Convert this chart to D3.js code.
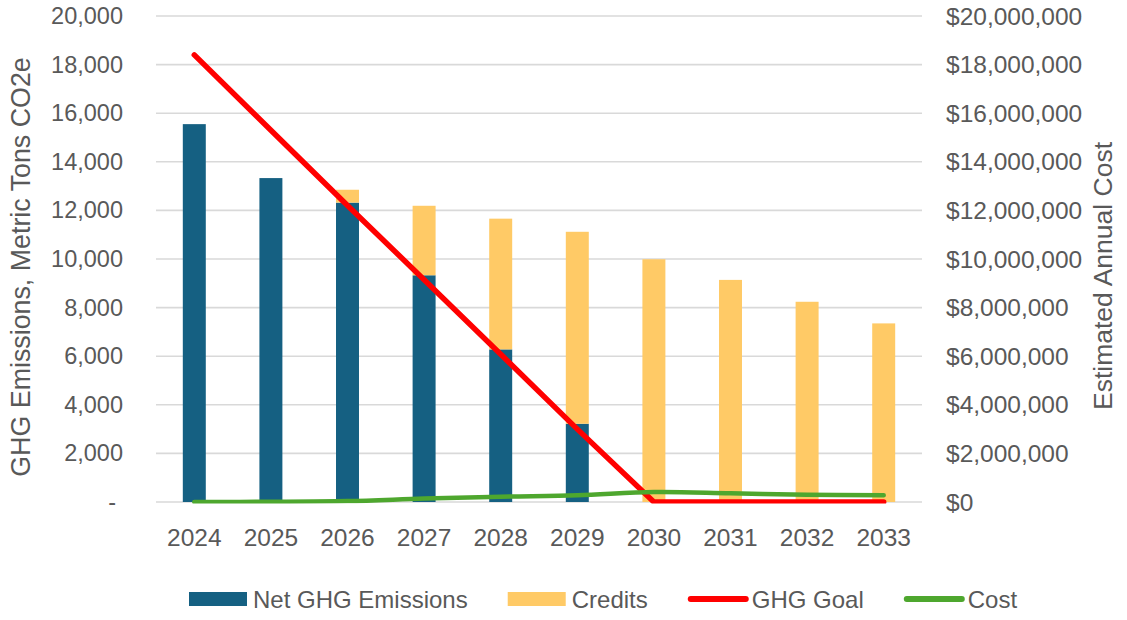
<!DOCTYPE html>
<html>
<head>
<meta charset="utf-8">
<script src="https://cdn.jsdelivr.net/npm/d3@7"></script>
<style>
  html, body { margin: 0; padding: 0; background: #fff; }
  svg { display: block; font-family: "Liberation Sans", Arial, sans-serif; }
</style>
</head>
<body>
<svg id="chart" width="1127" height="620"></svg>
<script>
// ---- data ----
const years = ["2024","2025","2026","2027","2028","2029","2030","2031","2032","2033"];
const netEmissions = [15550, 13330, 12320, 9330, 6280, 3220, 0, 0, 0, 0];
const credits = [0, 0, 530, 2860, 5380, 7900, 9990, 9140, 8240, 7350];
const ghgGoal = [18400, 15300, 12200, 9150, 6080, 3000, 0, 0, 0, 0];
const cost = [0, 10000, 40000, 140000, 220000, 275000, 410000, 360000, 300000, 275000];
const leftTicks = [0, 2000, 4000, 6000, 8000, 10000, 12000, 14000, 16000, 18000, 20000];
const rightTicks = [0, 2000000, 4000000, 6000000, 8000000, 10000000, 12000000, 14000000, 16000000, 18000000, 20000000];
const seriesNames = ["Net GHG Emissions", "Credits", "GHG Goal", "Cost"];

(function () {
// ---- styles ----
const colBlue = "#156082", colYellow = "#FFCA66", colRed = "#FF0000", colGreen = "#4EA72E";
const textCol = "#595959", gridCol = "#D9D9D9";

const svg = d3.select("#chart");
const pLeft = 156, pRight = 922, pTop = 16, pBottom = 502;

const x = d3.scaleBand().domain(years).range([pLeft, pRight]).paddingInner(0.7).paddingOuter(0.35);
const y = d3.scaleLinear().domain([0, 20000]).range([pBottom, pTop]);
const y2 = d3.scaleLinear().domain([0, 20000000]).range([pBottom, pTop]);

// gridlines
svg.append("g").selectAll("line").data(leftTicks).join("line")
  .attr("x1", pLeft).attr("x2", pRight)
  .attr("y1", d => y(d)).attr("y2", d => y(d))
  .attr("stroke", gridCol).attr("stroke-width", 1.6);

// left axis labels
const fmt = d3.format(",");
svg.append("g").selectAll("text").data(leftTicks).join("text")
  .attr("x", d => d === 0 ? 116 : 123)
  .attr("y", d => y(d))
  .attr("text-anchor", "end").attr("dominant-baseline", "central")
  .attr("font-size", 23.5).attr("fill", textCol)
  .text(d => d === 0 ? "-" : fmt(d));

// right axis labels
const fmt2 = d => "$" + d3.format(",")(d);
svg.append("g").selectAll("text").data(rightTicks).join("text")
  .attr("x", 946)
  .attr("y", d => y2(d))
  .attr("text-anchor", "start").attr("dominant-baseline", "central")
  .attr("font-size", 24.5).attr("fill", textCol)
  .text(fmt2);

// x labels
svg.append("g").selectAll("text").data(years).join("text")
  .attr("x", d => x(d) + x.bandwidth() / 2)
  .attr("y", 537)
  .attr("text-anchor", "middle").attr("dominant-baseline", "central")
  .attr("font-size", 24.5).attr("fill", textCol)
  .text(d => d);

// axis titles
svg.append("text")
  .attr("transform", `translate(21,${(pTop + pBottom) / 2 + 8}) rotate(-90)`)
  .attr("text-anchor", "middle").attr("dominant-baseline", "central")
  .attr("font-size", 26.8).attr("fill", textCol)
  .text("GHG Emissions, Metric Tons CO2e");
svg.append("text")
  .attr("transform", `translate(1103,${(pTop + pBottom) / 2 + 17}) rotate(-90)`)
  .attr("text-anchor", "middle").attr("dominant-baseline", "central")
  .attr("font-size", 26.5).attr("fill", textCol)
  .text("Estimated Annual Cost");

// stacked bars
const rows = years.map((yr, i) => ({ year: yr, net: netEmissions[i], credits: credits[i] }));
const stack = d3.stack().keys(["net", "credits"])(rows);
const colors = { net: colBlue, credits: colYellow };
svg.append("g").selectAll("g").data(stack).join("g")
  .attr("fill", d => colors[d.key])
  .selectAll("rect").data(d => d).join("rect")
  .attr("x", d => x(d.data.year))
  .attr("width", x.bandwidth())
  .attr("y", d => y(d[1]))
  .attr("height", d => Math.max(0, y(d[0]) - y(d[1])));

// clip for lines
svg.append("clipPath").attr("id", "plotclip").append("rect")
  .attr("x", 0).attr("y", 0).attr("width", 1127).attr("height", 503.5);

const cx = d => x(d) + x.bandwidth() / 2;
const goalLine = d3.line().x((d, i) => cx(years[i])).y(d => y(d));
svg.append("path").datum(ghgGoal)
  .attr("clip-path", "url(#plotclip)")
  .attr("d", goalLine)
  .attr("fill", "none").attr("stroke", colRed).attr("stroke-width", 5.5)
  .attr("stroke-linecap", "round").attr("stroke-linejoin", "round");

const costLine = d3.line().x((d, i) => cx(years[i])).y(d => y2(d)).curve(d3.curveCatmullRom.alpha(0));
svg.append("path").datum(cost)
  .attr("clip-path", "url(#plotclip)")
  .attr("d", costLine)
  .attr("fill", "none").attr("stroke", colGreen).attr("stroke-width", 4.5)
  .attr("stroke-linecap", "round").attr("stroke-linejoin", "round");

// legend
const legend = svg.append("g");
const legendY = 599;
let lx = 189;
const kinds = ["rect", "rect", "line", "line"];
const lcolors = [colBlue, colYellow, colRed, colGreen];
seriesNames.forEach((name, i) => {
  if (kinds[i] === "rect") {
    legend.append("rect").attr("x", lx).attr("y", legendY - 7).attr("width", 58).attr("height", 14).attr("fill", lcolors[i]);
  } else {
    legend.append("line").attr("x1", lx + 3).attr("x2", lx + 58).attr("y1", legendY).attr("y2", legendY)
      .attr("stroke", lcolors[i]).attr("stroke-width", 6).attr("stroke-linecap", "round");
  }
  const t = legend.append("text").attr("x", lx + 64).attr("y", legendY)
    .attr("dominant-baseline", "central").attr("font-size", 24).attr("fill", textCol).text(name);
  lx = lx + 64 + t.node().getComputedTextLength() + 40;
});
})();
</script>
</body>
</html>
